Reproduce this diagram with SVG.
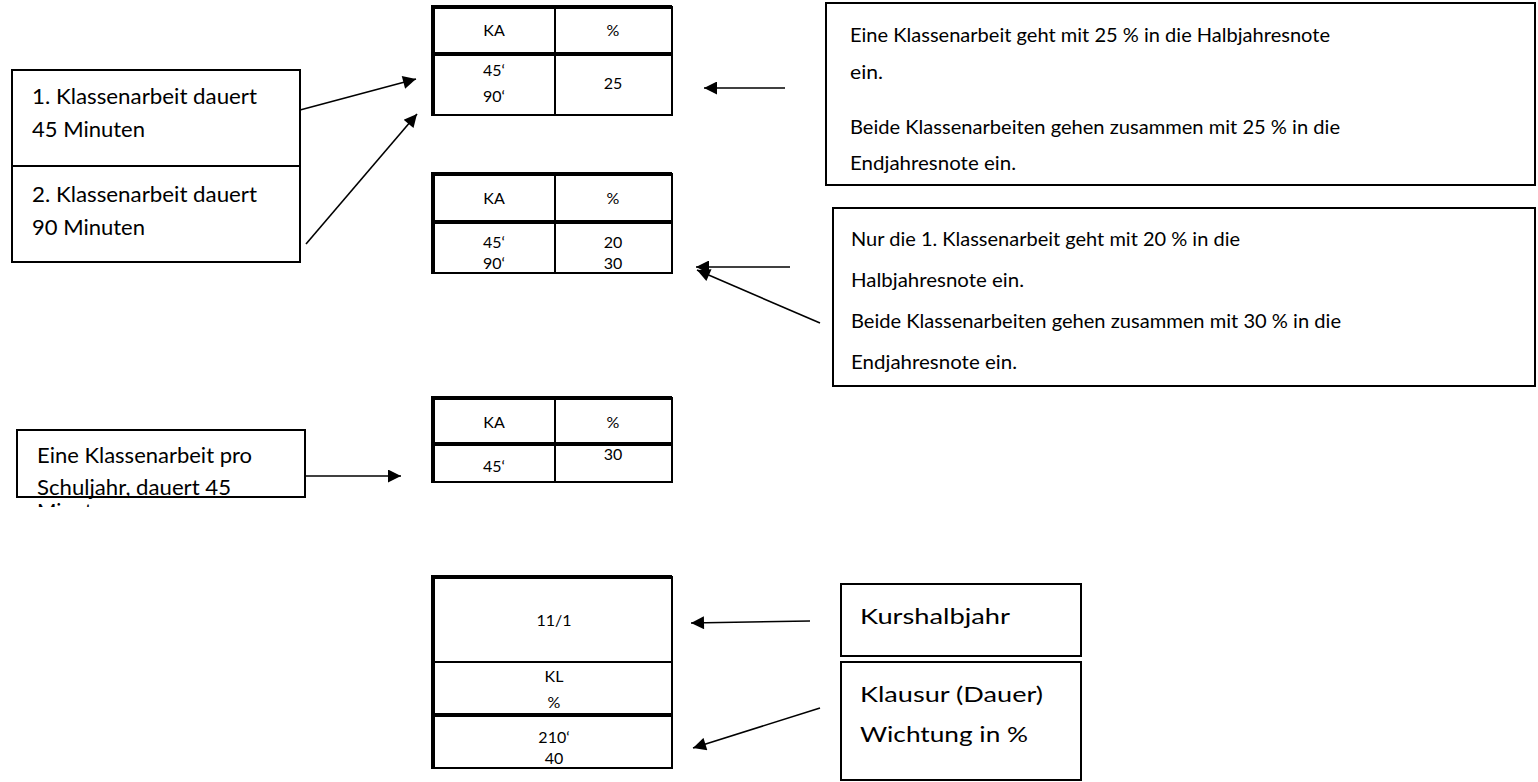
<svg xmlns="http://www.w3.org/2000/svg" width="1538" height="782" viewBox="0 0 1538 782">
<style>
  text { font-family: Lato, "Noto Sans", "Liberation Sans", sans-serif; fill: #000; }
  .box { fill: #fff; stroke: #000; stroke-width: 2; }
  .tb { fill: none; stroke: #000; stroke-width: 2; }
  .tk { fill: none; stroke: #000; stroke-width: 4; }
  .t24 { font-size: 21px; }
  .t21 { font-size: 20px; }
  .t29 { font-size: 22px; }
  .ts { font-size: 16px; text-anchor: middle; }
  .conn { stroke: #000; stroke-width: 1.6; fill: none; marker-end: url(#ah); }
</style>
<defs>
  <marker id="ah" viewBox="0 0 10 10" refX="10" refY="5" markerUnits="userSpaceOnUse" markerWidth="17" markerHeight="13" orient="auto">
    <path d="M0,0 L10,5 L0,10 Z" fill="#000"/>
  </marker>
  <clipPath id="clip3"><rect x="0" y="0" width="320" height="507"/></clipPath>
</defs>
<rect width="1538" height="782" fill="#fff"/>

<g id="box-ka1">
  <rect class="box" x="12" y="70" width="288" height="96"/>
  <text class="t24" x="32" y="104" textLength="225" lengthAdjust="spacingAndGlyphs">1. Klassenarbeit dauert</text>
  <text class="t24" x="32" y="137" textLength="113" lengthAdjust="spacingAndGlyphs">45 Minuten</text>
</g>
<g id="box-ka2">
  <rect class="box" x="12" y="166" width="288" height="96"/>
  <text class="t24" x="32" y="202" textLength="225" lengthAdjust="spacingAndGlyphs">2. Klassenarbeit dauert</text>
  <text class="t24" x="32" y="235" textLength="113" lengthAdjust="spacingAndGlyphs">90 Minuten</text>
</g>
<g id="box-ka3">
  <rect class="box" x="17" y="430" width="288" height="67"/>
  <g clip-path="url(#clip3)">
    <text class="t24" x="37" y="463" textLength="215" lengthAdjust="spacingAndGlyphs">Eine Klassenarbeit pro</text>
    <text class="t24" x="37" y="495" textLength="194" lengthAdjust="spacingAndGlyphs">Schuljahr, dauert 45</text>
    <text class="t24" x="37" y="519">Minuten</text>
  </g>
</g>

<g id="table1">
  <rect class="tb" x="433" y="7" width="239" height="108"/>
  <line class="tb" x1="555" y1="7" x2="555" y2="115"/>
  <line class="tk" x1="433" y1="7" x2="672" y2="7"/>
  <line class="tk" x1="433" y1="5" x2="433" y2="116"/>
  <line class="tk" x1="433" y1="54" x2="672" y2="54"/>
  <text class="ts" x="494" y="36">KA</text>
  <text class="ts" x="613" y="36">%</text>
  <text class="ts" x="494" y="76">45‘</text>
  <text class="ts" x="494" y="102">90‘</text>
  <text class="ts" x="613" y="89">25</text>
</g>
<g id="table2">
  <rect class="tb" x="433" y="174" width="239" height="99"/>
  <line class="tb" x1="555" y1="174" x2="555" y2="273"/>
  <line class="tk" x1="433" y1="174" x2="672" y2="174"/>
  <line class="tk" x1="433" y1="172" x2="433" y2="274"/>
  <line class="tk" x1="433" y1="222" x2="672" y2="222"/>
  <text class="ts" x="494" y="204">KA</text>
  <text class="ts" x="613" y="204">%</text>
  <text class="ts" x="494" y="248">45‘</text>
  <text class="ts" x="494" y="269">90‘</text>
  <text class="ts" x="613" y="248">20</text>
  <text class="ts" x="613" y="269">30</text>
</g>
<g id="table3">
  <rect class="tb" x="433" y="398" width="239" height="84"/>
  <line class="tb" x1="555" y1="398" x2="555" y2="482"/>
  <line class="tk" x1="433" y1="398" x2="672" y2="398"/>
  <line class="tk" x1="433" y1="396" x2="433" y2="483"/>
  <line class="tk" x1="433" y1="444" x2="672" y2="444"/>
  <text class="ts" x="494" y="428">KA</text>
  <text class="ts" x="613" y="428">%</text>
  <text class="ts" x="494" y="472">45‘</text>
  <text class="ts" x="613" y="460">30</text>
</g>
<g id="table4">
  <rect class="tb" x="433" y="577" width="239" height="191"/>
  <line class="tk" x1="433" y1="577" x2="672" y2="577"/>
  <line class="tk" x1="433" y1="575" x2="433" y2="769"/>
  <line class="tb" x1="433" y1="662" x2="672" y2="662"/>
  <line class="tk" x1="433" y1="715" x2="672" y2="715"/>
  <text class="ts" x="554" y="626">11/1</text>
  <text class="ts" x="554" y="682">KL</text>
  <text class="ts" x="554" y="708">%</text>
  <text class="ts" x="554" y="743">210‘</text>
  <text class="ts" x="554" y="764">40</text>
</g>

<g id="note1">
  <rect class="box" x="826" y="3" width="709" height="182"/>
  <text class="t21" x="850" y="42" textLength="480" lengthAdjust="spacingAndGlyphs">Eine Klassenarbeit geht mit 25 % in die Halbjahresnote</text>
  <text class="t21" x="850" y="79" textLength="33" lengthAdjust="spacingAndGlyphs">ein.</text>
  <text class="t21" x="850" y="134" textLength="490" lengthAdjust="spacingAndGlyphs">Beide Klassenarbeiten gehen zusammen mit 25 % in die</text>
  <text class="t21" x="850" y="170" textLength="166" lengthAdjust="spacingAndGlyphs">Endjahresnote ein.</text>
</g>
<g id="note2">
  <rect class="box" x="833" y="208" width="702" height="178"/>
  <text class="t21" x="851" y="246" textLength="389" lengthAdjust="spacingAndGlyphs">Nur die 1. Klassenarbeit geht mit 20 % in die</text>
  <text class="t21" x="851" y="287" textLength="173" lengthAdjust="spacingAndGlyphs">Halbjahresnote ein.</text>
  <text class="t21" x="851" y="328" textLength="490" lengthAdjust="spacingAndGlyphs">Beide Klassenarbeiten gehen zusammen mit 30 % in die</text>
  <text class="t21" x="851" y="369" textLength="166" lengthAdjust="spacingAndGlyphs">Endjahresnote ein.</text>
</g>
<g id="note-kurs">
  <rect class="box" x="841" y="584" width="240" height="72"/>
  <text class="t29" x="860" y="624" textLength="150" lengthAdjust="spacingAndGlyphs">Kurshalbjahr</text>
</g>
<g id="note-klausur">
  <rect class="box" x="841" y="662" width="240" height="118"/>
  <text class="t29" x="860" y="702" textLength="183" lengthAdjust="spacingAndGlyphs">Klausur (Dauer)</text>
  <text class="t29" x="860" y="742" textLength="168" lengthAdjust="spacingAndGlyphs">Wichtung in %</text>
</g>

<g id="connectors">
  <line class="conn" x1="300" y1="110" x2="416" y2="79"/>
  <line class="conn" x1="306" y1="244" x2="417" y2="114"/>
  <line class="conn" x1="305" y1="476" x2="401" y2="476"/>
  <line class="conn" x1="785" y1="88" x2="704" y2="88"/>
  <line class="conn" x1="790" y1="267" x2="696" y2="267"/>
  <line class="conn" x1="820" y1="323" x2="697" y2="270"/>
  <line class="conn" x1="810" y1="621" x2="691" y2="623"/>
  <line class="conn" x1="820" y1="708" x2="693" y2="748"/>
</g>
</svg>
